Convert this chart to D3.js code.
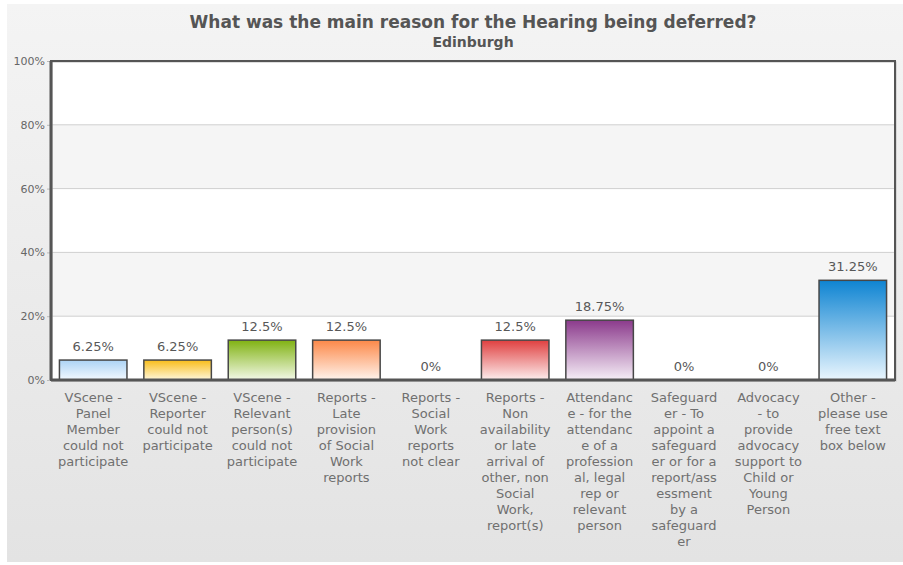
<!DOCTYPE html>
<html>
<head>
<meta charset="utf-8">
<script src="https://cdn.jsdelivr.net/npm/d3@7"></script>
<style>
  html, body { margin: 0; padding: 0; background: #fff; }
  svg { display: block; font-family: "DejaVu Sans", Verdana, sans-serif; }
</style>
</head>
<body>
<svg id="chart" width="903" height="565"></svg>
<script>
// Reasons, as they wrap under each bar
const categoryLines = [
  ["VScene -", "Panel", "Member", "could not", "participate"],
  ["VScene -", "Reporter", "could not", "participate"],
  ["VScene -", "Relevant", "person(s)", "could not", "participate"],
  ["Reports -", "Late", "provision", "of Social", "Work", "reports"],
  ["Reports -", "Social", "Work", "reports", "not clear"],
  ["Reports -", "Non", "availability", "or late", "arrival of", "other, non", "Social", "Work,", "report(s)"],
  ["Attendanc", "e - for the", "attendanc", "e of a", "profession", "al, legal", "rep or", "relevant", "person"],
  ["Safeguard", "er - To", "appoint a", "safeguard", "er or for a", "report/ass", "essment", "by a", "safeguard", "er"],
  ["Advocacy", "- to", "provide", "advocacy", "support to", "Child or", "Young", "Person"],
  ["Other -", "please use", "free text", "box below"]
];
// Share of deferred hearings (%)
const percentages = [6.25, 6.25, 12.5, 12.5, 0, 12.5, 18.75, 0, 0, 31.25];
const yTicks = [0, 20, 40, 60, 80, 100];
// Gradient top / bottom colour per bar
const topColors = ["#acd3f4", "#f8bd1a", "#80b212", "#fc8848", "#9a9a9a", "#df3f3f", "#8b3a8c", "#9a9a9a", "#9a9a9a", "#0e84d2"];
const bottomColors = ["#f3f9ff", "#fff7dc", "#f3f9e8", "#fff4ed", "#ffffff", "#fdeeee", "#f6eff7", "#ffffff", "#ffffff", "#eaf6fe"];

const title = "What was the main reason for the Hearing being deferred?";
const subtitle = "Edinburgh";

const svg = d3.select("#chart");
const W = 903, H = 565;
const plot = { left: 51, right: 895, top: 61, bottom: 380 };

const defs = svg.append("defs");

// Card background
const bg = defs.append("linearGradient").attr("id", "bg")
  .attr("x1", 0).attr("y1", 0).attr("x2", 0).attr("y2", 1);
bg.append("stop").attr("offset", "0%").attr("stop-color", "#f4f4f4");
bg.append("stop").attr("offset", "100%").attr("stop-color", "#e3e3e3");
svg.append("rect").attr("x", 7).attr("y", 4).attr("width", W - 7).attr("height", 558)
  .attr("fill", "url(#bg)");

// Bar gradients
percentages.forEach((v, i) => {
  const g = defs.append("linearGradient").attr("id", "bar" + i)
    .attr("x1", 0).attr("y1", 0).attr("x2", 0).attr("y2", 1);
  g.append("stop").attr("offset", "0%").attr("stop-color", topColors[i]);
  g.append("stop").attr("offset", "100%").attr("stop-color", bottomColors[i]);
});

const x = d3.scaleBand()
  .domain(d3.range(categoryLines.length))
  .range([plot.left, plot.right])
  .paddingInner(0.2)
  .paddingOuter(0.1);

const y = d3.scaleLinear().domain([0, 100]).range([plot.bottom, plot.top]);

// Plot area with alternating bands
svg.append("rect")
  .attr("x", plot.left).attr("y", plot.top)
  .attr("width", plot.right - plot.left).attr("height", plot.bottom - plot.top)
  .attr("fill", "#ffffff");
const bandPairs = d3.pairs(yTicks);
svg.append("g").selectAll("rect")
  .data(bandPairs.filter((d, i) => i % 2 === 1))
  .join("rect")
  .attr("x", plot.left)
  .attr("y", d => y(d[1]))
  .attr("width", plot.right - plot.left)
  .attr("height", d => y(d[0]) - y(d[1]))
  .attr("fill", "#f5f5f5");

// Gridlines
svg.append("g").selectAll("line")
  .data(yTicks.slice(1, -1))
  .join("line")
  .attr("x1", plot.left).attr("x2", plot.right)
  .attr("y1", d => y(d)).attr("y2", d => y(d))
  .attr("stroke", "#cfcfcf").attr("stroke-width", 1);

// Y axis labels
const yAxis = d3.axisLeft(y).tickValues(yTicks).tickFormat(d => d + "%")
  .tickSize(3).tickPadding(2);
const yg = svg.append("g").attr("transform", `translate(${plot.left - 1},0)`).call(yAxis);
yg.select(".domain").remove();
yg.selectAll(".tick line").attr("stroke", "#bbb");
yg.selectAll(".tick text")
  .attr("fill", "#666").attr("font-size", 11)
  .attr("font-family", "'DejaVu Sans', Verdana, sans-serif");

// Bars
const barData = percentages.map((v, i) => ({ i, v }));
svg.append("g").selectAll("rect")
  .data(barData.filter(d => d.v > 0))
  .join("rect")
  .attr("x", d => x(d.i))
  .attr("y", d => y(d.v))
  .attr("width", x.bandwidth())
  .attr("height", d => y(0) - y(d.v))
  .attr("fill", d => `url(#bar${d.i})`)
  .attr("stroke", "#474747")
  .attr("stroke-width", 1.5);

// Value labels
svg.append("g").selectAll("text")
  .data(barData)
  .join("text")
  .attr("x", d => x(d.i) + x.bandwidth() / 2)
  .attr("y", d => y(d.v) - 9)
  .attr("text-anchor", "middle")
  .attr("font-size", 13)
  .attr("fill", "#585858")
  .text(d => d.v + "%");

// Plot frame
svg.append("rect")
  .attr("x", plot.left).attr("y", plot.top)
  .attr("width", plot.right - plot.left).attr("height", plot.bottom - plot.top)
  .attr("fill", "none").attr("stroke", "#bdbdbd").attr("stroke-width", 1)
  .attr("transform", "translate(1,1)");
svg.append("rect")
  .attr("x", plot.left).attr("y", plot.top)
  .attr("width", plot.right - plot.left).attr("height", plot.bottom - plot.top)
  .attr("fill", "none").attr("stroke", "#555").attr("stroke-width", 2);
svg.append("line")
  .attr("x1", plot.left).attr("x2", plot.left)
  .attr("y1", plot.top).attr("y2", plot.bottom)
  .attr("stroke", "#555").attr("stroke-width", 3);
svg.append("line")
  .attr("x1", plot.left).attr("x2", plot.right)
  .attr("y1", plot.bottom).attr("y2", plot.bottom)
  .attr("stroke", "#555").attr("stroke-width", 3);

// Category labels
const xl = svg.append("g").selectAll("text")
  .data(categoryLines)
  .join("text")
  .attr("text-anchor", "middle")
  .attr("font-size", 13)
  .attr("fill", "#707070");
xl.each(function (lines, i) {
  const cx = x(i) + x.bandwidth() / 2;
  d3.select(this).selectAll("tspan")
    .data(lines)
    .join("tspan")
    .attr("x", cx)
    .attr("y", (d, k) => plot.bottom + 22 + k * 16)
    .text(d => d);
});

// Titles
const cx = (plot.left + plot.right) / 2;
svg.append("text")
  .attr("x", cx).attr("y", 28)
  .attr("text-anchor", "middle")
  .attr("font-size", 17).attr("font-weight", "bold")
  .attr("fill", "#555")
  .text(title);
svg.append("text")
  .attr("x", cx).attr("y", 47)
  .attr("text-anchor", "middle")
  .attr("font-size", 14).attr("font-weight", "bold")
  .attr("fill", "#555")
  .text(subtitle);
</script>
</body>
</html>
